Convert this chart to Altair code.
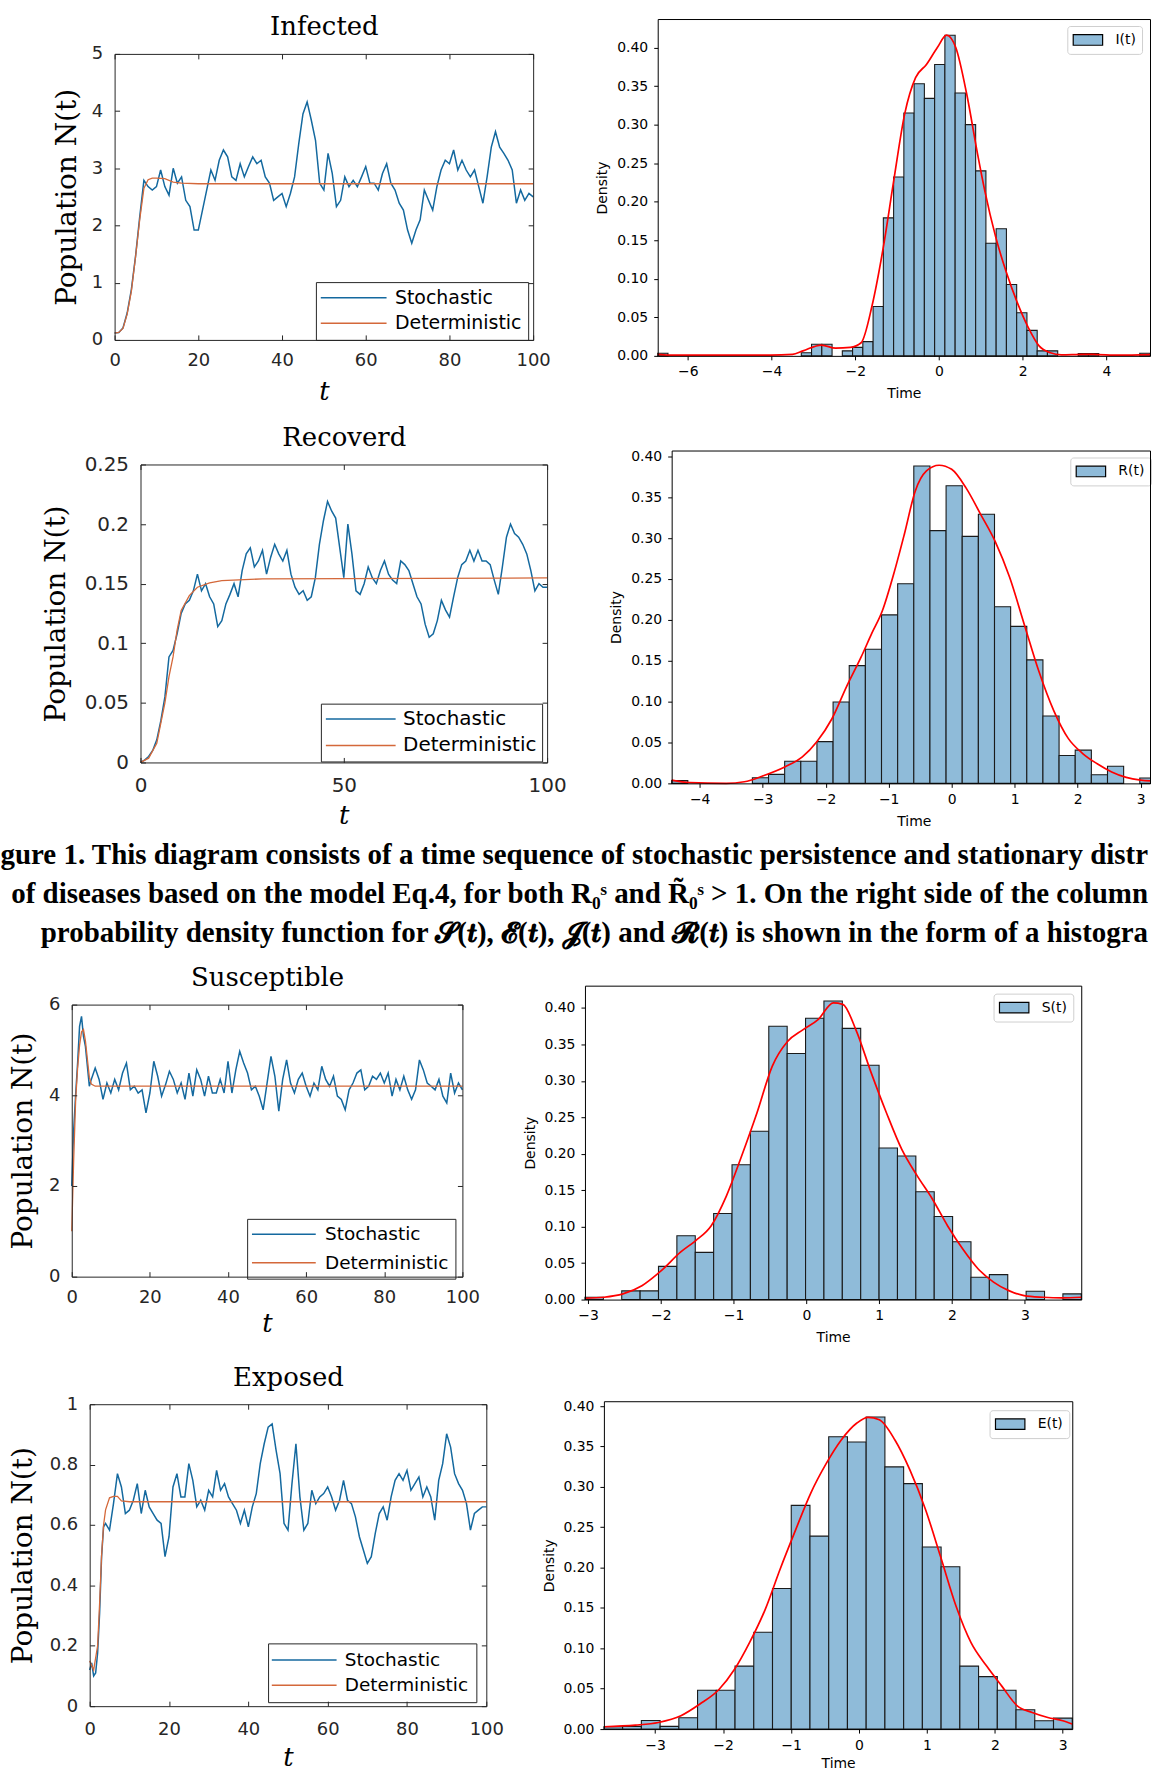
import altair as alt
import pandas as pd

BLUE = "#14699f"
ORANGE = "#d4683a"
BAR = "#8fbbd9"
AXC = "#262626"

# ---------------- time-series data ----------------
t_int = list(range(101))
inf_stoch = [0.12,0.13,0.21,0.47,0.88,1.46,2.15,2.79,2.68,2.62,2.68,
             2.97,2.68,2.53,3.0,2.74,2.85,2.44,2.33,1.92,1.92,
             2.27,2.62,2.97,2.79,3.14,3.32,3.20,2.85,2.79,3.08,
             2.85,3.03,3.20,3.08,3.14,2.85,2.74,2.44,2.50,2.56,
             2.33,2.56,2.85,3.43,3.95,4.16,3.84,3.49,2.74,2.62,
             3.26,2.91,2.33,2.44,2.85,2.68,2.79,2.68,2.85,3.03,
             2.74,2.74,2.62,2.91,3.08,2.74,2.62,2.39,2.27,1.92,
             1.69,1.92,2.10,2.62,2.44,2.27,2.68,2.97,3.14,3.08,
             3.32,2.97,3.14,2.97,2.85,2.97,2.68,2.39,2.85,3.37,
             3.64,3.37,3.26,3.14,2.97,2.39,2.62,2.44,2.56,2.50]
inf_det_t = [0,1,2,3,4,5,6,7,8,9,10,12,14,16,20,100]
inf_det_y = [0.12,0.13,0.2,0.45,0.85,1.45,2.1,2.65,2.8,2.83,2.83,2.82,2.76,2.74,2.73,2.73]

rec_stoch = [0,0.002,0.005,0.01,0.019,0.035,0.055,0.0885,0.094,0.108,0.125,
             0.133,0.136,0.144,0.158,0.144,0.150,0.139,0.133,0.114,0.119,
             0.133,0.141,0.150,0.139,0.161,0.175,0.180,0.164,0.169,0.178,
             0.158,0.172,0.183,0.175,0.169,0.178,0.158,0.147,0.141,0.144,
             0.136,0.139,0.155,0.183,0.203,0.219,0.211,0.205,0.180,0.155,
             0.200,0.175,0.144,0.141,0.150,0.164,0.155,0.150,0.161,0.169,
             0.158,0.153,0.150,0.169,0.166,0.161,0.150,0.139,0.133,0.116,
             0.105,0.108,0.119,0.136,0.128,0.122,0.139,0.155,0.166,0.169,
             0.178,0.169,0.178,0.169,0.169,0.166,0.153,0.141,0.164,0.189,
             0.200,0.192,0.189,0.183,0.175,0.161,0.144,0.150,0.147,0.147]
rec_det_t = [0,2,4,6,7,8,9,10,12,14,17,20,30,100]
rec_det_y = [0,0.0036,0.016,0.05,0.072,0.0885,0.111,0.1275,0.14,0.147,0.1506,0.1526,0.154,0.1548]

sus_t = [0,0.5,1,1.5,2,2.5,3,3.5,4,4.5] + list(range(5, 101))
sus_stoch = [2.0,3.25,4.02,4.71,5.52,5.74,5.30,5.08,4.64,4.20,
             4.35,4.60,4.35,3.91,4.27,4.05,4.35,4.12,4.49,4.71,
             4.12,4.20,4.05,4.12,3.61,4.05,4.75,4.42,3.98,4.23,
             4.53,4.35,4.05,4.27,3.91,4.49,3.98,4.56,4.35,3.98,
             4.42,4.05,4.05,4.35,4.05,4.75,4.05,4.56,4.97,4.71,
             4.49,4.12,4.20,3.98,3.68,4.27,4.86,4.42,3.65,4.35,
             4.78,4.27,4.05,4.35,4.49,4.20,3.98,4.27,4.12,4.64,
             4.35,4.20,4.42,3.98,3.91,3.68,4.12,4.27,4.49,4.56,
             4.12,4.20,4.42,4.35,4.49,4.27,4.49,3.98,4.35,4.12,
             4.42,4.12,3.91,4.12,4.78,4.56,4.27,4.20,4.12,4.35,
             3.98,3.83,4.49,4.05,4.27,4.12]
sus_det_t = [0,0.5,1,1.5,2,2.5,3,3.5,4,4.5,5,6,8,100]
sus_det_y = [1.0,2.6,3.9,4.6,5.1,5.4,5.45,5.2,4.8,4.4,4.25,4.2,4.2,4.2]

exp_t = [0,0.5,1,1.5,2,2.5,3,3.5,4] + list(range(5, 101))
exp_stoch = [0.12,0.143,0.10,0.11,0.176,0.308,0.495,0.594,0.605,
             0.583,0.671,0.77,0.726,0.638,0.649,0.682,0.737,0.638,0.715,
             0.66,0.638,0.616,0.605,0.495,0.561,0.726,0.77,0.693,0.693,
             0.803,0.748,0.66,0.682,0.649,0.715,0.693,0.781,0.715,0.737,
             0.693,0.671,0.649,0.605,0.649,0.594,0.66,0.704,0.803,0.869,
             0.924,0.935,0.847,0.77,0.605,0.583,0.737,0.869,0.693,0.583,
             0.605,0.715,0.671,0.693,0.704,0.726,0.693,0.649,0.682,0.748,
             0.682,0.671,0.627,0.561,0.517,0.473,0.495,0.572,0.638,0.66,
             0.616,0.693,0.748,0.77,0.748,0.781,0.715,0.737,0.759,0.693,
             0.726,0.693,0.616,0.748,0.803,0.902,0.858,0.77,0.737,0.715,
             0.671,0.583,0.638,0.649,0.66,0.66]
exp_det_t = [0,1,2,2.5,3,3.5,4,5,6,7,8,10,100]
exp_det_y = [0.15,0.12,0.2,0.34,0.5,0.6,0.65,0.69,0.695,0.695,0.68,0.677,0.677]

# ---------------- histogram data ----------------
i_x0, i_w = -6.72, 0.245
i_h = [0.0034] + [0]*13 + [0.004,0.015,0.015,0,0.0065,0.011,0.0185,0.064,0.179,0.232,
       0.315,0.353,0.334,0.378,0.416,0.341,0.300,0.240,0.146,0.165,0.0925,0.056,0.033,
       0.0065,0.0065,0,0,0.003,0.003,0,0,0,0,0.0034]
i_kx = [-6.72,-6.46,-4.03,-3.5,-3.25,-2.81,-2.47,-2.12,-1.86,-1.6,-1.34,-1.08,-0.82,-0.56,-0.30,
        -0.04,0.18,0.40,0.66,0.92,1.09,1.35,1.61,1.87,2.13,2.39,2.66,2.92,3.44,3.78,4.3,5.04]
i_ky = [0.002,0.001,0.001,0.002,0.0065,0.014,0.010,0.011,0.017,0.065,0.138,0.228,0.314,0.361,0.378,
        0.40,0.416,0.40,0.34,0.262,0.215,0.155,0.108,0.069,0.037,0.013,0.004,0.0013,0.002,0.0017,0.001,0.0017]

r_x0, r_w = -4.444, 0.2562
r_h = [0.0033,0,0,0,0,0.0069,0.011,0.027,0.027,0.051,0.0995,0.144,0.164,0.206,0.244,0.388,
       0.309,0.364,0.302,0.329,0.216,0.192,0.151,0.0824,0.034,0.0406,0.0106,0.021,0,0.0065]
r_kx = [-4.444,-4.16,-3.58,-3.29,-3.0,-2.65,-2.37,-2.14,-1.90,-1.67,-1.44,-1.27,-1.10,-0.92,-0.75,
        -0.58,-0.40,-0.20,0.0,0.23,0.46,0.69,0.92,1.15,1.38,1.62,1.85,2.08,2.31,2.54,2.77,3.0,3.16]
r_ky = [0.004,0.001,0.0,0.002,0.009,0.020,0.0325,0.051,0.079,0.118,0.154,0.183,0.211,0.256,0.305,
        0.357,0.382,0.389,0.384,0.361,0.329,0.296,0.252,0.195,0.138,0.089,0.055,0.0365,0.024,0.014,0.0073,0.004,0.003]

s_x0, s_w = -3.042, 0.2525
s_h = [0.0032,0,0.0119,0.0119,0.0456,0.0876,0.0648,0.118,0.185,0.231,0.375,0.3375,0.386,0.4096,
       0.372,0.3215,0.208,0.197,0.148,0.114,0.0794,0.0306,0.0342,0,0.0114,0,0.0078]
s_kx = [-3.04,-2.78,-2.52,-2.26,-1.99,-1.73,-1.52,-1.31,-1.10,-0.89,-0.68,-0.47,-0.26,-0.05,0.16,
        0.37,0.50,0.68,0.89,1.10,1.31,1.52,1.73,1.94,2.15,2.36,2.57,2.78,2.99,3.25,3.51,3.78]
s_ky = [0.0018,0.0032,0.0078,0.019,0.040,0.065,0.081,0.101,0.142,0.197,0.256,0.320,0.354,0.370,0.384,
        0.407,0.405,0.370,0.311,0.256,0.206,0.170,0.138,0.101,0.069,0.042,0.024,0.0123,0.0055,0.0032,0.0023,0.0032]

e_x0, e_w = -3.753, 0.2757
e_h = [0.0029,0.0033,0.0107,0.0033,0.014,0.048,0.048,0.078,0.120,0.174,0.277,0.239,0.362,0.3556,
       0.3864,0.3247,0.304,0.2255,0.201,0.078,0.065,0.048,0.0239,0.0103,0.0136]
e_kx = [-3.75,-3.29,-2.95,-2.62,-2.34,-2.06,-1.83,-1.61,-1.38,-1.16,-0.93,-0.71,-0.48,-0.26,-0.03,
        0.135,0.30,0.53,0.75,0.98,1.20,1.43,1.65,1.88,2.10,2.33,2.55,2.78,3.0,3.14]
e_ky = [0.0029,0.0049,0.0082,0.0165,0.031,0.049,0.074,0.107,0.148,0.198,0.247,0.292,0.329,0.358,0.379,
        0.386,0.383,0.358,0.321,0.272,0.214,0.152,0.107,0.078,0.0535,0.0288,0.0206,0.0144,0.0103,0.0062]

caption_lines = [
    "gure 1. This diagram consists of a time sequence of stochastic persistence and stationary distr",
    "of diseases based on the model Eq.4, for both R\u2080\u02e2 and R\u0303\u2080\u02e2 > 1. On the right side of the column",
    "probability density function for \U0001D4E2(\U0001D495), \U0001D4D4(\U0001D495), \U0001D4D9(\U0001D495) and \U0001D4E1(\U0001D495) is shown in the form of a histogra",
]


def ts_panel(title, t, ys, dt, dy, ydom, yvals, xvals, box, ytx, fs, xlp, tty, leg):
    L, T, W, H, R, B = box
    bx, by, ls, le, lx, lfs, p, rp = leg
    d = (le - ls) / 5.0
    s0 = (ls + le) / 2 - p - d / 2
    legend = alt.Legend(orient="none", legendX=L + bx, legendY=T + by, title=None,
                        symbolType="M-5,0L5,0", symbolSize=d * d,
                        symbolOffset=s0 - 4, labelOffset=lx - p - s0 - d - 1.5,
                        symbolStrokeWidth=1.5, labelFont="DejaVu Sans", labelFontSize=lfs,
                        labelColor="black", strokeColor=AXC, fillColor="white",
                        padding=p, rowPadding=rp, cornerRadius=0)
    col = alt.Color("series:N", scale=alt.Scale(domain=["Stochastic", "Deterministic"],
                                                range=[BLUE, ORANGE]), legend=legend)
    tick_in = dict(ticks=True, tickSize=5, tickColor=AXC, tickWidth=1, labels=False, grid=False, zindex=1)
    lab = dict(labelFont="DejaVu Sans", labelFontSize=fs, labelColor=AXC, labelFlush=False,
               ticks=False, grid=False, domain=True, domainColor=AXC, domainWidth=1, zindex=1)
    xax = alt.Axis(orient="bottom", offset=-B, values=xvals, labelPadding=xlp,
                   title="t", titleFont="DejaVu Serif", titleFontStyle="italic",
                   titleFontWeight="normal", titleFontSize=26, titleColor="black",
                   titleX=L + W / 2, titleY=tty, titleAlign="center", titleBaseline="middle", **lab)
    yax = alt.Axis(orient="left", offset=-L, values=yvals, labelPadding=12, format="~g",
                   title="Population N(t)", titleFont="DejaVu Serif", titleFontWeight="normal",
                   titleFontSize=28, titleColor="black", titleX=ytx, titleY=T + H / 2, titleAngle=270,
                   titleAlign="center", titleBaseline="middle", **lab)
    topax = alt.Axis(orient="bottom", offset=-(H + B), values=xvals, domain=True, domainColor=AXC,
                     title=title, titleFont="DejaVu Serif", titleFontWeight="normal",
                     titleFontSize=26, titleColor="black", titleX=L + W / 2, titleY=-27,
                     titleAlign="center", titleBaseline="middle", **tick_in)
    rightax = alt.Axis(orient="left", offset=-(L + W), values=yvals, domain=True, domainColor=AXC,
                       title=None, **tick_in)
    botticks = alt.Axis(orient="top", offset=-(T + H), values=xvals, domain=False, title=None, **tick_in)
    leftticks = alt.Axis(orient="right", offset=-(W + R), values=yvals, domain=False, title=None, **tick_in)
    xsc = alt.Scale(domain=[0, 100], range=[L, L + W], nice=False, zero=False)
    ysc = alt.Scale(domain=ydom, range=[T + H, T], nice=False, zero=False)
    df_s = pd.DataFrame({"t": t, "N": ys, "series": "Stochastic"})
    df_d = pd.DataFrame({"t": dt, "N": dy, "series": "Deterministic"})
    s = alt.Chart(df_s).mark_line(strokeWidth=1.5, clip=True).encode(
        x=alt.X("t:Q", scale=xsc, axis=xax), y=alt.Y("N:Q", scale=ysc, axis=yax), color=col)
    dd = alt.Chart(df_d).mark_line(strokeWidth=1.3, clip=True).encode(
        x=alt.X("t:Q", scale=xsc, axis=topax), y=alt.Y("N:Q", scale=ysc, axis=rightax), color=col)
    tk = alt.Chart(df_d).mark_line(opacity=0, clip=True).encode(
        x=alt.X("t:Q", scale=xsc, axis=botticks), y=alt.Y("N:Q", scale=ysc, axis=leftticks))
    return alt.layer(s, dd, tk).resolve_axis(x="independent", y="independent").properties(
        width=L + W + R, height=T + H + B)


def hist_panel(lab, x0, w, heights, kx, ky, xdom, ymax, xvals, box, legpos, timex=None, timey=38):
    L, T, W, H, R, B = box
    rows = [(x0 + i * w, x0 + (i + 1) * w, h) for i, h in enumerate(heights) if h > 0]
    df = pd.DataFrame(rows, columns=["a", "b", "h"])
    df["lab"] = lab
    kde = pd.DataFrame({"x": kx, "y": ky})
    frame = dict(domain=True, domainColor="black", domainWidth=1, zindex=1)
    common = dict(grid=False, ticks=True, tickSize=4, tickColor="black", tickWidth=1,
                  labelFont="DejaVu Sans", labelFontSize=14, labelColor="black", labelFlush=False,
                  titleFont="DejaVu Sans", titleFontSize=14, titleFontWeight="normal",
                  titleColor="black", **frame)
    xax = alt.Axis(orient="bottom", offset=-B, values=xvals, format="d", labelPadding=5, title="Time",
                   titleX=L + (W / 2 if timex is None else timex), titleY=timey,
                   titleAlign="center", titleBaseline="middle", **common)
    yax = alt.Axis(orient="left", offset=-L, values=[0, 0.05, 0.1, 0.15, 0.2, 0.25, 0.3, 0.35, 0.4],
                   format=".2f", labelPadding=6, title="Density", titleX=-55, titleY=T + H / 2,
                   titleAngle=270, titleAlign="center", titleBaseline="middle", **common)
    topax = alt.Axis(orient="top", offset=-T, labels=False, ticks=False, grid=False, title=None, **frame)
    rightax = alt.Axis(orient="right", offset=-R, labels=False, ticks=False, grid=False, title=None, **frame)
    d = 14.75
    p = 6
    s0 = 6.7
    legend = alt.Legend(orient="none", legendX=L + legpos[0], legendY=T + legpos[1], title=None,
                        symbolType="M-2,-0.72L2,-0.72L2,0.72L-2,0.72Z", symbolSize=d * d,
                        symbolOffset=s0, labelOffset=41 - s0 - d,
                        symbolStrokeColor="black", symbolStrokeWidth=1.2, symbolOpacity=1,
                        labelFont="DejaVu Sans", labelFontSize=14, labelColor="black",
                        strokeColor="#cfcfcf", fillColor="white", padding=p, cornerRadius=3)
    xsc = alt.Scale(domain=xdom, range=[L, L + W], nice=False, zero=False)
    ysc = alt.Scale(domain=[0, ymax], range=[T + H, T], nice=False, zero=False)
    bars = alt.Chart(df).mark_rect(stroke="#1a1a1a", strokeWidth=1.1, clip=True).encode(
        x=alt.X("a:Q", scale=xsc, axis=xax), x2="b:Q",
        y=alt.Y("h:Q", scale=ysc, axis=yax), y2=alt.datum(0),
        fill=alt.Fill("lab:N", scale=alt.Scale(domain=[lab], range=[BAR]), legend=legend))
    line = alt.Chart(kde).mark_line(color="red", strokeWidth=1.7, interpolate="monotone", clip=True).encode(
        x=alt.X("x:Q", scale=xsc, axis=topax), y=alt.Y("y:Q", scale=ysc, axis=rightax))
    return alt.layer(bars, line).resolve_axis(x="independent", y="independent").properties(
        width=L + W + R, height=T + H + B)


x20 = [0, 20, 40, 60, 80, 100]

A = ts_panel("Infected", t_int, inf_stoch, inf_det_t, inf_det_y, [0, 5], [0, 1, 2, 3, 4, 5], x20,
             (114, 50, 420, 287, 46, 78), -47, 18, 12, 52,
             (202, 229, 6, 72, 79, 19, 6.25, 5.5))
B = hist_panel("I(t)", i_x0, i_w, i_h, i_kx, i_ky, [-6.72, 5.04], 0.437, [-6, -4, -2, 0, 2, 4],
               (77, 15, 494, 338, 1, 62), (411, 7))
C = ts_panel("Recoverd", t_int, rec_stoch, rec_det_t, rec_det_y, [0, 0.25],
             [0, 0.05, 0.1, 0.15, 0.2, 0.25], [0, 50, 100],
             (140, 45, 408, 299, 32, 71), -84, 20, 13, 53,
             (181, 240, 6, 76, 82, 20, 5.3, 6.6))
D = hist_panel("R(t)", r_x0, r_w, r_h, r_kx, r_ky, [-4.444, 3.148], 0.407, [-4, -3, -2, -1, 0, 1, 2, 3],
               (91, 31, 480, 334, 1, 50), (400, 7), timex=243)
cap = alt.Chart(pd.DataFrame({"row": [0, 1, 2], "line": caption_lines})).mark_text(
    align="right", baseline="middle", font="Liberation Serif", fontWeight="bold",
    fontSize=29.05, color="black", clip=True).encode(
    x=alt.value(1151),
    y=alt.Y("row:Q", scale=alt.Scale(domain=[-0.513, 2.692], range=[0, 125]), axis=None),
    text="line:N").properties(width=1152, height=125)
E = ts_panel("Susceptible", sus_t, sus_stoch, sus_det_t, sus_det_y, [0, 6], [0, 2, 4, 6], x20,
             (71, 43, 392, 273, 37, 74), -48, 18, 12, 47,
             (176, 215, 6, 70, 78, 18.5, 6.2, 9.6))
F = hist_panel("S(t)", s_x0, s_w, s_h, s_kx, s_ky, [-3.042, 3.775], 0.4306, [-3, -2, -1, 0, 1, 2, 3],
               (84, 24, 498, 315, 70, 51), (410, 8))
G = ts_panel("Exposed", exp_t, exp_stoch, exp_det_t, exp_det_y, [0, 1], [0, 0.2, 0.4, 0.6, 0.8, 1], x20,
             (89, 52, 398, 303, 33, 69), -66, 18, 14, 52,
             (179, 240, 5, 70, 77, 18.5, 7.35, 6.3))
H = hist_panel("E(t)", e_x0, e_w, e_h, e_kx, e_ky, [-3.753, 3.14], 0.406, [-3, -2, -1, 0, 1, 2, 3],
               (83, 49, 470, 329, 79, 46), (387, 9), timey=35)


def row(a, b):
    return alt.hconcat(a, b, spacing=0).resolve_scale(color="independent", fill="independent")


chart = alt.vconcat(row(A, B), row(C, D), cap, row(E, F), row(G, H), spacing=0).resolve_scale(
    color="independent", fill="independent").properties(padding=0).configure(
    font="DejaVu Sans").configure_view(stroke="transparent")

chart.save("out.html", embed_options={"renderer": "svg", "actions": False})
